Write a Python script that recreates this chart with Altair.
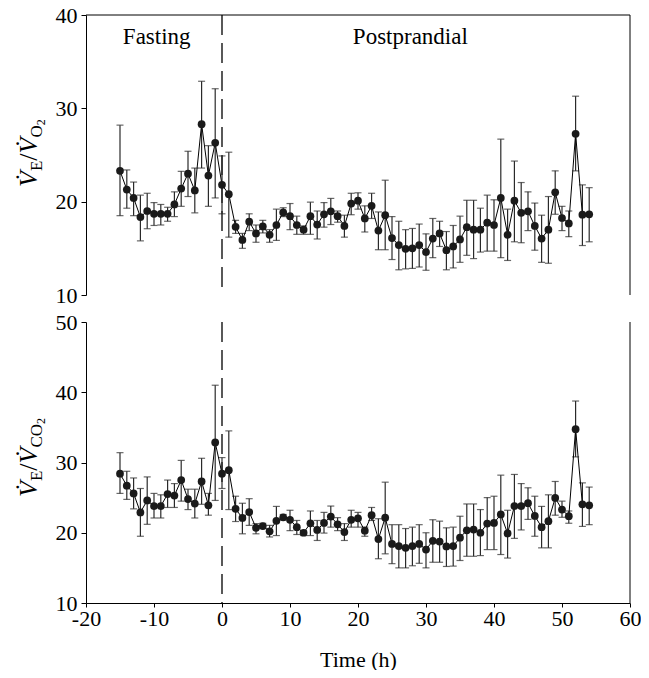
import altair as alt
import pandas as pd

hours = [-15, -14, -13, -12, -11, -10, -9, -8, -7, -6, -5, -4, -3, -2, -1,
         0, 1, 2, 3, 4, 5, 6, 7, 8, 9, 10, 11, 12, 13, 14, 15, 16, 17, 18, 19,
         20, 21, 22, 23, 24, 25, 26, 27, 28, 29, 30, 31, 32, 33, 34, 35, 36,
         37, 38, 39, 40, 41, 42, 43, 44, 45, 46, 47, 48, 49, 50, 51, 52, 53, 54]

# VE/VO2
vo2_mean = [23.3, 21.3, 20.4, 18.35, 19.0, 18.7, 18.7, 18.7, 19.7, 21.4, 23.0, 21.2, 28.3, 22.8, 26.3,
            21.8, 20.8, 17.3, 15.9, 17.85, 16.6, 17.35, 16.45, 17.5, 18.85, 18.45, 17.5, 17.0, 18.45, 17.55,
            18.65, 18.96, 18.45, 17.4, 19.8, 20.1, 18.2, 19.55, 16.9, 18.55, 16.1, 15.35, 14.95, 15.0, 15.35,
            14.6, 16.05, 16.6, 14.8, 15.2, 15.95, 17.27, 17.0, 17.0, 17.75, 17.5, 20.4, 16.45, 20.1, 18.8,
            18.96, 17.4, 16.05, 17.0, 21.0, 18.25, 17.67, 27.27, 18.6, 18.65]
vo2_hi = [28.2, 23.4, 22.1, 20.7, 20.9, 19.9, 19.7, 19.4, 21.05, 23.25, 25.4, 23.6, 32.9, 26.0, 32.1,
          24.9, 25.3, 18.0, 16.6, 18.7, 17.5, 18.0, 17.0, 19.2, 19.35, 19.8, 18.45, 17.4, 19.95, 19.0,
          19.9, 20.35, 19.0, 18.55, 20.9, 20.95, 19.55, 20.9, 18.9, 22.3, 18.4, 17.9, 17.0, 17.13, 17.6,
          16.55, 18.2, 17.9, 16.8, 17.45, 18.45, 20.15, 20.15, 19.3, 20.7, 20.2, 26.7, 19.2, 24.35, 22.05,
          21.05, 19.85, 18.55, 20.55, 23.3, 19.5, 19.0, 31.3, 21.8, 21.5]
vo2_lo = [18.5, 19.3, 18.5, 15.8, 17.1, 17.45, 17.5, 17.9, 18.4, 19.5, 20.55, 18.8, 23.6, 19.5, 20.4,
          18.7, 16.2, 16.6, 15.0, 16.9, 15.65, 16.65, 15.65, 15.85, 18.4, 17.0, 16.5, 16.5, 16.5, 16.0,
          17.27, 17.55, 17.8, 16.2, 18.6, 19.2, 16.75, 18.2, 14.85, 14.85, 13.8, 12.7, 12.8, 12.85, 13.0,
          12.65, 14.0, 15.2, 12.7, 12.9, 13.5, 14.25, 13.9, 14.6, 14.7, 14.7, 14.0, 13.7, 15.7, 15.6,
          16.9, 14.8, 13.5, 13.4, 18.65, 16.9, 16.25, 23.3, 15.3, 15.7]

# VE/VCO2
vco2_mean = [28.4, 26.7, 25.6, 22.9, 24.6, 23.8, 23.8, 25.5, 25.3, 27.5, 24.8, 24.15, 27.3, 23.9, 32.85,
             28.4, 28.9, 23.4, 22.1, 22.95, 20.7, 20.95, 20.2, 21.7, 22.2, 21.85, 20.8, 20.0, 21.35, 20.4,
             21.4, 22.3, 21.2, 20.1, 21.85, 22.05, 20.3, 22.5, 19.1, 22.15, 18.4, 18.1, 17.85, 18.1, 18.4,
             17.6, 18.85, 18.75, 18.05, 18.1, 19.3, 20.35, 20.45, 20.0, 21.3, 21.4, 22.6, 19.9, 23.8, 23.8,
             24.2, 22.4, 20.8, 21.65, 24.95, 23.3, 22.35, 34.75, 24.05, 23.9]
vco2_hi = [31.4, 28.75, 27.8, 26.3, 27.95, 25.6, 25.4, 27.5, 27.0, 30.3, 26.2, 26.2, 30.6, 25.6, 41.0,
           30.7, 34.5, 25.2, 24.2, 24.85, 21.3, 21.35, 21.05, 23.75, 22.6, 23.2, 21.75, 20.3, 23.1, 21.75,
           22.9, 23.8, 22.15, 21.3, 23.2, 22.9, 20.8, 23.6, 22.0, 27.2, 21.15, 21.15, 20.6, 20.8, 21.15,
           20.0, 21.85, 21.65, 20.7, 20.8, 22.35, 24.1, 24.1, 23.3, 25.0, 25.2, 28.2, 23.2, 28.3, 27.0,
           26.4, 25.2, 23.75, 25.4, 27.3, 24.5, 23.1, 38.75, 27.1, 26.5]
vco2_lo = [25.6, 24.75, 23.4, 19.5, 21.2, 22.1, 22.1, 23.6, 23.6, 24.5, 23.3, 22.1, 24.05, 22.5, 24.6,
           26.3, 23.3, 21.6, 19.85, 21.05, 19.85, 20.6, 19.4, 19.6, 21.8, 20.3, 19.75, 19.6, 19.6, 18.9,
           19.95, 20.8, 20.3, 18.9, 20.8, 20.8, 19.5, 21.75, 16.3, 17.0, 15.6, 15.0, 15.0, 15.3, 15.65,
           15.0, 15.8, 15.8, 15.2, 15.25, 16.05, 16.65, 16.65, 16.75, 17.6, 17.6, 16.9, 16.4, 19.2, 20.4,
           21.9, 19.5, 17.85, 17.85, 22.5, 22.2, 21.35, 30.8, 20.9, 21.15]

x_ticks = [-20, -10, 0, 10, 20, 30, 40, 50, 60]
top_ticks = [10, 20, 30, 40]
bot_ticks = [10, 20, 30, 40, 50]
phase_labels = ["Fasting", "Postprandial"]
phase_x = [-9.6, 27.7]

FONT = "Liberation Serif"
W = 544
H_TOP = 280
H_BOT = 281
BAR = "#2a2a2a"

x_scale = alt.Scale(domain=[-20, 60], nice=False, zero=False)


def title_layers(pieces, base_x, start_y):
    """pieces: (text, size, shift, italic, advance_em)"""
    layers = []
    y = start_y
    for txt, size, shift, italic, adv in pieces:
        layers.append(
            alt.Chart(pd.DataFrame({"a": [0]})).mark_text(
                text=txt, angle=270, align="left", baseline="alphabetic",
                font=FONT, fontSize=size, fontStyle="italic" if italic else "normal",
                color="black"
            ).encode(x=alt.value(base_x + shift), y=alt.value(y))
        )
        y -= size * adv
    return layers


def panel(mean, hi, lo, ydom, yticks, height, show_x, pieces, title_start, top_border):
    df = pd.DataFrame({"t": hours, "m": mean, "hi": hi, "lo": lo})
    ysc = alt.Scale(domain=ydom, nice=False, zero=False)
    if show_x:
        xax = alt.Axis(values=x_ticks, title="Time (h)", labelExpr="'' + datum.value",
                       labelFont=FONT, labelFontSize=22, labelColor="black",
                       titleFont=FONT, titleFontSize=22, titleFontWeight="normal",
                       titleColor="black", tickSize=4, tickColor="black",
                       domainColor="black", grid=False, labelPadding=1,
                       titlePadding=20, labelFlush=False)
    else:
        xax = None
    yax = alt.Axis(values=yticks, title=None, labelExpr="'' + datum.value",
                   labelFont=FONT, labelFontSize=22, labelColor="black",
                   tickSize=5, tickColor="black", domainColor="black",
                   grid=False, labelPadding=4, labelFlush=False)

    def X(f):
        return alt.X(f, type="quantitative", scale=x_scale, axis=xax)

    def Y(f):
        return alt.Y(f, type="quantitative", scale=ysc, axis=yax)

    base = alt.Chart(df)
    bars = base.mark_rule(color=BAR, strokeWidth=1.2).encode(x=X("t"), y=Y("lo"), y2="hi")
    cap_hi = base.mark_tick(orient="horizontal", size=7, thickness=1.2, color=BAR).encode(x=X("t"), y=Y("hi"))
    cap_lo = base.mark_tick(orient="horizontal", size=7, thickness=1.2, color=BAR).encode(x=X("t"), y=Y("lo"))
    line = base.mark_line(color="black", strokeWidth=1).encode(x=X("t"), y=Y("m"))
    pts = base.mark_circle(size=60, color="#1a1a1a", opacity=1).encode(x=X("t"), y=Y("m"))

    dash = alt.Chart(pd.DataFrame({"t": [0]})).mark_rule(
        strokeDash=[20, 8], color="black", strokeWidth=1.3).encode(x=X("t"))
    right = alt.Chart(pd.DataFrame({"t": [60]})).mark_rule(
        color="black", strokeWidth=1).encode(x=X("t"))
    layers = [dash, right, bars, cap_hi, cap_lo, line, pts]
    if top_border:
        topb = alt.Chart(pd.DataFrame({"v": [ydom[1]]})).mark_rule(
            color="black", strokeWidth=1).encode(y=Y("v"))
        layers.append(topb)
        ann = alt.Chart(pd.DataFrame({"t": phase_x, "v": [37.6, 37.6], "label": phase_labels})).mark_text(
            font=FONT, fontSize=23, color="black", baseline="middle"
        ).encode(x=X("t"), y=Y("v"), text="label:N")
        layers.append(ann)
    layers += title_layers(pieces, -49, title_start)
    return alt.layer(*layers).properties(width=W, height=height)


V = "V\u0307"
top_pieces = [(V, 26, 0, True, 0.611), ("E", 17, 5, False, 0.611), ("/", 26, 0, False, 0.278),
              (V, 26, 0, True, 0.611), ("O", 17, 5, False, 0.722), ("2", 12, 8, False, 0.5)]
bot_pieces = [(V, 26, 0, True, 0.611), ("E", 17, 5, False, 0.611), ("/", 26, 0, False, 0.278),
              (V, 26, 0, True, 0.611), ("CO", 17, 5, False, 1.389), ("2", 12, 8, False, 0.5)]

top = panel(vo2_mean, vo2_hi, vo2_lo, [10, 40], top_ticks, H_TOP, False, top_pieces, 172, True)
bot = panel(vco2_mean, vco2_hi, vco2_lo, [10, 50], bot_ticks, H_BOT, True, bot_pieces, 175, False)

chart = alt.vconcat(top, bot, spacing=27, bounds="flush").properties(
    padding={"left": 8, "top": -4, "right": 0, "bottom": 0}
).configure_view(stroke=None).configure_axis(grid=False)

chart.save("out.html", embed_options={"renderer": "svg", "actions": False})
